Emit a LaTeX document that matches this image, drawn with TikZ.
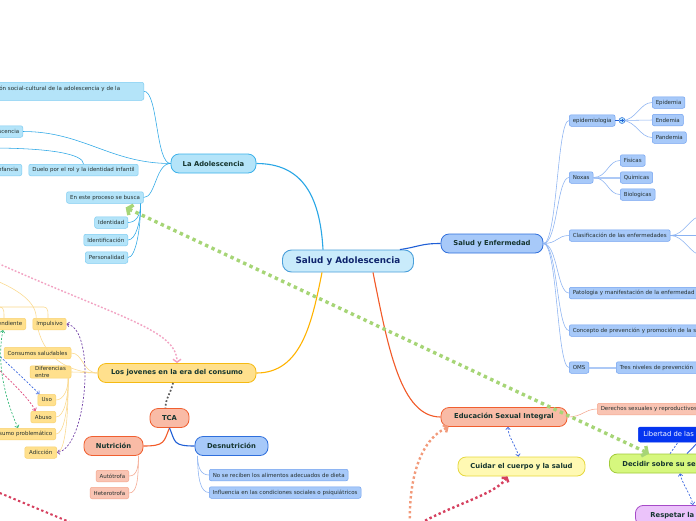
\documentclass[tikz,border=0pt]{standalone}
\usepackage{fontspec}
\setmainfont{DejaVu Sans}
\usetikzlibrary{arrows.meta,calc}

\definecolor{textdark}{HTML}{15352F}
\definecolor{textleaf}{HTML}{25302F}
\definecolor{centralfill}{HTML}{C9EBFB}
\definecolor{centraldraw}{HTML}{4A9FDA}
\definecolor{adolline}{HTML}{2AA7E6}
\definecolor{adolfill}{HTML}{B4E4F9}
\definecolor{adoldraw}{HTML}{3BB1EA}
\definecolor{adolleafdraw}{HTML}{7FCDF2}
\definecolor{enfline}{HTML}{1F5FD6}
\definecolor{enffill}{HTML}{A7C9F9}
\definecolor{enfdraw}{HTML}{2F6FDC}
\definecolor{enfleafdraw}{HTML}{72A2F0}
\definecolor{enftwig}{HTML}{8AB2F2}
\definecolor{jovline}{HTML}{FFB300}
\definecolor{jovfill}{HTML}{FFE08D}
\definecolor{jovdraw}{HTML}{F5BA12}
\definecolor{jovleafdraw}{HTML}{F8D272}
\definecolor{jovtwig}{HTML}{FBD98C}
\definecolor{esiline}{HTML}{F25A28}
\definecolor{esifill}{HTML}{F9BBA6}
\definecolor{esidraw}{HTML}{F05F30}
\definecolor{esileaffill}{HTML}{F9C4B3}
\definecolor{esileafdraw}{HTML}{F5A78E}
\definecolor{cuidarfill}{HTML}{FFF9B3}
\definecolor{cuidardraw}{HTML}{E6D83E}
\definecolor{decidirfill}{HTML}{D6F77E}
\definecolor{decidirdraw}{HTML}{A2CB3A}
\definecolor{respetarfill}{HTML}{EBC3FA}
\definecolor{respetardraw}{HTML}{A64AC8}
\definecolor{libertadfill}{HTML}{0535F0}
\definecolor{greendot}{HTML}{A6D576}
\definecolor{graydot}{HTML}{5A5A5A}
\definecolor{pinkdot}{HTML}{F2A2C2}
\definecolor{purpledash}{HTML}{7444A8}
\definecolor{salmondot}{HTML}{F29A7A}
\definecolor{crimsondot}{HTML}{D6405F}
\definecolor{bluedash}{HTML}{3A66E0}
\definecolor{greendash}{HTML}{35B978}
\definecolor{reddash}{HTML}{E0457A}

\tikzset{
    central/.style = {
        draw=centraldraw, fill=centralfill, line width=0.9pt,
        rounded corners=9pt, minimum width=131pt, minimum height=22pt,
        font=\fontsize{8.8}{10}\selectfont\bfseries, text=textdark!70!blue
    },
    topic/.style = {
        draw, line width=0.8pt, rounded corners=8pt, minimum height=19pt,
        inner xsep=6pt, font=\fontsize{6.8}{8}\selectfont\bfseries, text=textdark
    },
    leaf/.style = {
        draw, line width=0.5pt, rounded corners=2pt, minimum height=11.5pt,
        inner xsep=3.5pt, inner ysep=1pt, font=\fontsize{5.5}{6.2}\selectfont, text=textleaf
    },
    adolleaf/.style = {leaf, fill=adolfill, draw=adolleafdraw},
    enfleaf/.style = {leaf, fill=enffill, draw=enfleafdraw},
    jovleaf/.style = {leaf, fill=jovfill, draw=jovleafdraw},
    esileaf/.style = {leaf, fill=esileaffill, draw=esileafdraw},
    branch/.style = {line width=1.1pt},
    twig/.style = {line width=0.55pt},
    dashlink/.style = {
        line width=0.7pt, dash pattern=on 2pt off 1.6pt,
        >={Straight Barb[length=2.2pt,width=4.5pt]}
    },
    dotlink/.style = {
        line width=2.4pt, dash pattern=on 2.4pt off 2.6pt,
        >={Straight Barb[length=3pt,width=8pt]}
    }
}

\begin{document}
\begin{tikzpicture}[x=1pt, y=-1pt]
    \useasboundingbox (0,0) rectangle (696,520);
    \fill[white] (0,0) rectangle (696,520);
    \clip (0,0) rectangle (696,520);

    % Draw central idea and main topics
    \node[central] (salud) at (348,261) {Salud y Adolescencia};
    \node[topic, fill=adolfill, draw=adoldraw, minimum width=85pt] (adol) at (213.5,163.5) {La Adolescencia};
    \node[topic, fill=enffill, draw=enfdraw, minimum width=102pt] (enf) at (492,243.5) {Salud y Enfermedad};
    \node[topic, fill=jovfill, draw=jovdraw, minimum width=158pt] (jov) at (177,373) {Los jovenes en la era del consumo};
    \node[topic, fill=esifill, draw=esidraw, minimum width=126pt] (esi) at (504,417) {Educación Sexual Integral};
    \node[topic, fill=esifill, draw=esidraw, minimum width=39pt] (tca) at (169.5,418) {TCA};
    \node[topic, fill=esifill, draw=esidraw, minimum width=59pt] (nut) at (113.5,446) {Nutrición};
    \node[topic, fill=enffill, draw=enfdraw, minimum width=73pt] (desn) at (231.5,446) {Desnutrición};
    \node[topic, fill=cuidarfill, draw=cuidardraw, minimum width=127pt] (cuidar) at (521.5,466.5) {Cuidar el cuerpo y la salud};
    \node[topic, fill=decidirfill, draw=decidirdraw, anchor=west, inner xsep=13pt] (decidir) at (609,463.5) {Decidir sobre su sexualidad};
    \node[topic, fill=respetarfill, draw=respetardraw, anchor=north west, inner xsep=15pt, minimum height=20pt] (respetar) at (635,505) {Respetar la diversidad};
    \node[leaf, fill=libertadfill, draw=libertadfill, text=white, anchor=west, minimum height=15pt, inner xsep=5pt,
          font=\fontsize{6.8}{8}\selectfont] (libertad) at (638,434.5) {Libertad de las personas};

    % Leaves of La Adolescencia
    \node[adolleaf, anchor=north east, text width=170pt, align=left, minimum height=18pt] (constr) at (144,82) {Construcción social-cultural de la adolescencia y de la\\\mbox{}};
    \node[adolleaf, anchor=east] (escen) at (23,131.5) {Pubertad y adolescencia};
    \node[adolleaf, anchor=east] (fancia) at (22,170) {Duelo por los padres de la infancia};
    \node[adolleaf] (duelo) at (83.5,170) {Duelo por el rol y la identidad infantil};
    \node[adolleaf] (busca) at (105,197.5) {En este proceso se busca};
    \node[adolleaf, anchor=east] (ident) at (128,222.5) {Identidad};
    \node[adolleaf, anchor=east] (identif) at (128,240) {Identificación};
    \node[adolleaf, anchor=east] (person) at (128,257.5) {Personalidad};

    % Leaves of Salud y Enfermedad
    \node[enfleaf, anchor=west] (epi) at (569,120.5) {epidemiologia};
    \node[enfleaf, anchor=west] (epidemia) at (652,102.5) {Epidemia};
    \node[enfleaf, anchor=west] (endemia) at (652,120) {Endemia};
    \node[enfleaf, anchor=west] (pandemia) at (652,137.5) {Pandemia};
    \node[enfleaf, anchor=west] (noxas) at (569,177.5) {Noxas};
    \node[enfleaf, anchor=west] (fisicas) at (620,160.5) {Fisicas};
    \node[enfleaf, anchor=west] (quimicas) at (620,177.5) {Quimicas};
    \node[enfleaf, anchor=west] (biologicas) at (620,194.5) {Biologicas};
    \node[enfleaf, anchor=west] (clasif) at (569,235.5) {Clasificación de las enfermedades};
    \node[enfleaf, anchor=west, text width=150pt] (patol) at (569,293) {Patologia y manifestación de la enfermedad};
    \node[enfleaf, anchor=west, text width=150pt] (concepto) at (569,330.5) {Concepto de prevención y promoción de la salud};
    \node[enfleaf, anchor=west] (oms) at (569,367.5) {OMS};
    \node[enfleaf, anchor=west, text width=100pt] (tres) at (616,367.5) {Tres niveles de prevención};

    % Leaves of Los jovenes en la era del consumo
    \node[jovleaf] (impul) at (49.5,324) {Impulsivo};
    \node[jovleaf, anchor=east] (depen) at (26,324) {Dependiente};
    \node[jovleaf, minimum width=67pt] (consal) at (37.5,353) {Consumos saludables};
    \node[jovleaf, align=left, minimum width=41pt] (difer) at (50.5,372) {Diferencias\\entre};
    \node[jovleaf, anchor=east, minimum width=18pt] (uso) at (56,400) {Uso};
    \node[jovleaf, anchor=east, minimum width=25pt] (abuso) at (56,417) {Abuso};
    \node[jovleaf, anchor=east, minimum width=66pt] (probl) at (56,434) {Consumo problemático};
    \node[jovleaf, anchor=east, minimum width=32pt] (adic) at (57,452.5) {Adicción};

    % Leaves of TCA and Educación Sexual Integral
    \node[esileaf, anchor=east] (auto) at (129,476) {Autótrofa};
    \node[esileaf, anchor=east] (hetero) at (129,493) {Heterotrofa};
    \node[enfleaf, anchor=west] (dieta) at (209,475) {No se reciben los alimentos adecuados de dieta};
    \node[enfleaf, anchor=west] (psiq) at (209,492.5) {Influencia en las condiciones sociales o psiquiátricos};
    \node[esileaf, anchor=west] (derechos) at (597,409) {Derechos sexuales y reproductivos};

    % Free ends of connectors leaving the picture
    \coordinate (knob) at (622,120.5);
    \coordinate (dueloin) at (-10,148);
    \coordinate (clasa) at (702,216);
    \coordinate (clasb) at (702,235.5);
    \coordinate (clasc) at (702,255);
    \coordinate (jovup) at (-8,279);
    \coordinate (bracka) at (-10,307);
    \coordinate (pinkin) at (-5,262);
    \coordinate (bluein) at (-5,352);
    \coordinate (redin) at (-5,366);
    \coordinate (salmonout) at (410,528);
    \coordinate (crimsonout) at (412,528);
    \coordinate (crimsona) at (-5,491);
    \coordinate (crimsonb) at (72,523);
    \coordinate (libout) at (704,436);

    % Draw main branches
    \draw[branch, adolline] ($(salud.north)+(-25,0)$) .. controls +(-3,-55) and +(45,0) .. (adol.east);
    \draw[branch, enfline] ($(salud.north east)+(-14,0)$) .. controls +(20,-3) and +(-20,0) .. (enf.west);
    \draw[branch, jovline] ($(salud.south)+(-26,0)$) .. controls +(-10,50) and +(45,0) .. (jov.east);
    \draw[branch, esiline] ($(salud.south)+(25,0)$) .. controls +(15,75) and +(-40,0) .. (esi.west);
    \draw[branch, esiline] (tca.south) .. controls +(-6,14) and +(22,0) .. (nut.east);
    \draw[branch, enfline] (tca.south) .. controls +(6,14) and +(-22,0) .. (desn.west);
    \draw[graydot, line width=1.7pt, dash pattern=on 1.7pt off 2pt] ($(jov.south)+(-4,0)$) .. controls +(-2,10) and +(0,-10) .. ($(tca.north)+(-4,0)$);

    % Draw twigs of La Adolescencia
    \draw[twig, adolline] (adol.west) .. controls +(-15,0) and +(14,0) .. (constr.east);
    \draw[twig, adolline] (adol.west) .. controls +(-60,0) and +(60,0) .. (escen.east);
    \draw[twig, adolline] (adol.west) .. controls +(-15,0) and +(12,0) .. (busca.east);
    \draw[twig, adolline] (dueloin) .. controls +(60,0) and +(0,-10) .. (duelo.north);
    \draw[twig, adolline] ($(busca.south east)+(-3,0)$) .. controls +(0,12) and +(8,0) .. (ident.east);
    \draw[twig, adolline] ($(busca.south east)+(-3,0)$) .. controls +(0,18) and +(8,0) .. (identif.east);
    \draw[twig, adolline] ($(busca.south east)+(-3,0)$) .. controls +(0,24) and +(8,0) .. (person.east);

    % Draw twigs of Salud y Enfermedad
    \draw[twig, enftwig] (enf.east) .. controls +(14,0) and +(-12,0) .. (epi.west);
    \draw[twig, enftwig] (enf.east) .. controls +(14,0) and +(-12,0) .. (noxas.west);
    \draw[twig, enftwig] (enf.east) .. controls +(14,0) and +(-12,0) .. (clasif.west);
    \draw[twig, enftwig] (enf.east) .. controls +(14,0) and +(-12,0) .. (patol.west);
    \draw[twig, enftwig] (enf.east) .. controls +(14,0) and +(-12,0) .. (concepto.west);
    \draw[twig, enftwig] (enf.east) .. controls +(14,0) and +(-12,0) .. (oms.west);
    \draw[enfline, line width=0.9pt] (epi.east) -- (knob);
    \draw[twig, enftwig] (knob) .. controls +(14,0) and +(-12,0) .. (epidemia.west);
    \draw[twig, enftwig] (knob) -- (endemia.west);
    \draw[twig, enftwig] (knob) .. controls +(14,0) and +(-12,0) .. (pandemia.west);
    \draw[enfdraw, fill=adolfill, line width=0.5pt] (knob) circle (3pt);
    \draw[enfline, line width=0.5pt] ($(knob)+(-1.6,0)$) -- ($(knob)+(1.6,0)$) ($(knob)+(0,-1.6)$) -- ($(knob)+(0,1.6)$);
    \draw[twig, enftwig] (noxas.east) .. controls +(14,0) and +(-12,0) .. (fisicas.west);
    \draw[enftwig!70!white, line width=2pt] (noxas.east) -- (quimicas.west);
    \draw[twig, enftwig] (noxas.east) .. controls +(14,0) and +(-12,0) .. (biologicas.west);
    \draw[twig, enftwig] (clasif.east) .. controls +(14,0) and +(-12,0) .. (clasa);
    \draw[twig, enftwig] (clasif.east) -- (clasb);
    \draw[twig, enftwig] (clasif.east) .. controls +(14,0) and +(-12,0) .. (clasc);
    \draw[enftwig!70!white, line width=2pt] (oms.east) -- (tres.west);

    % Draw twigs of Los jovenes en la era del consumo
    \draw[twig, jovtwig] (jov.west) .. controls +(-15,0) and +(12,0) .. (consal.east);
    \draw[twig, jovtwig] (jov.west) .. controls +(-12,0) and +(12,0) .. (difer.east);
    \draw[twig, jovtwig] (jov.west) .. controls (60,372) and (38,350) .. (36,315) .. controls (34,300) and (15,288) .. (jovup);
    \draw[twig, jovtwig] (bracka) -- (44,307) to[out=0, in=90] ($(impul.north)+(-1.5,0)$);
    \draw[twig, jovtwig] (bracka) -- (0,307) to[out=0, in=90] ($(depen.north east)+(-22,0)$);
    \draw[twig, jovtwig] ($(difer.south east)+(-3,0)$) .. controls +(0,10) and +(8,0) .. (uso.east);
    \draw[twig, jovtwig] ($(difer.south east)+(-3,0)$) .. controls +(0,20) and +(8,0) .. (abuso.east);
    \draw[twig, jovtwig] ($(difer.south east)+(-3,0)$) .. controls +(0,30) and +(8,0) .. (probl.east);
    \draw[twig, jovtwig] ($(difer.south east)+(-3,0)$) .. controls +(0,40) and +(8,0) .. (adic.east);

    % Draw twigs of TCA and Educación Sexual Integral
    \draw[twig, esileafdraw] ($(nut.south east)+(-5,0)$) .. controls +(0,12) and +(8,0) .. (auto.east);
    \draw[twig, esileafdraw] ($(nut.south east)+(-5,0)$) .. controls +(0,24) and +(8,0) .. (hetero.east);
    \draw[twig, enftwig] ($(desn.south west)+(3,0)$) .. controls +(0,12) and +(-8,0) .. (dieta.west);
    \draw[twig, enftwig] ($(desn.south west)+(3,0)$) .. controls +(0,24) and +(-8,0) .. (psiq.west);
    \draw[twig, esileafdraw] (esi.east) .. controls +(15,0) and +(-12,0) .. (derechos.west);

    % Draw cross links
    \draw[dotlink, greendot, line width=3.4pt, dash pattern=on 3.4pt off 3.6pt, >={Straight Barb[length=4pt,width=11pt]}, <->]
        ($(busca.south east)+(-18,4)$) -- ($(decidir.north west)+(40,0)$);
    \draw[dotlink, pinkdot, line width=1.4pt, dash pattern=on 1.8pt off 1.8pt, ->] (pinkin) .. controls (120,318) and (177,330) .. (jov.north);
    \draw[dashlink, purpledash, <->] (impul.east) .. controls +(30,5) and +(30,-5) .. (adic.east);
    \draw[dashlink, bluedash, ->] (bluein) .. controls (15,370) and (30,385) .. ($(uso.north west)+(2,0)$);
    \draw[dashlink, reddash, ->] (redin) .. controls (15,385) and (30,400) .. ($(abuso.north west)+(5,0)$);
    \draw[dashlink, greendash, <->] ($(depen.south east)+(-23,0)$) .. controls (-5,370) and (10,410) .. ($(probl.north east)+(-38,0)$);
    \draw[dotlink, salmondot, <-] ($(esi.south west)+(8,0)$) .. controls (420,440) and (408,480) .. (salmonout);
    \draw[dotlink, crimsondot, ->] (crimsonout) .. controls (450,505) and (495,495) .. ($(cuidar.south)+(-14,0)$);
    \draw[dotlink, crimsondot, line width=2pt] (crimsona) -- (crimsonb);
    \draw[dashlink, bluedash, <->] ($(esi.south)+(4,0)$) .. controls +(0,10) and +(-2,-10) .. ($(cuidar.north)+(-3,0)$);
    \draw[dashlink, bluedash, <->] ($(decidir.south west)+(71,0)$) .. controls +(2,10) and +(-2,-10) .. ($(respetar.north west)+(58,0)$);
    \draw[dashlink, bluedash] ($(decidir.north west)+(61,0)$) -- ($(libertad.south west)+(40,0)$);
    \draw[bluedash, line width=0.9pt] ($(decidir.north west)+(78,0)$) -- (libout);
\end{tikzpicture}
\end{document}
